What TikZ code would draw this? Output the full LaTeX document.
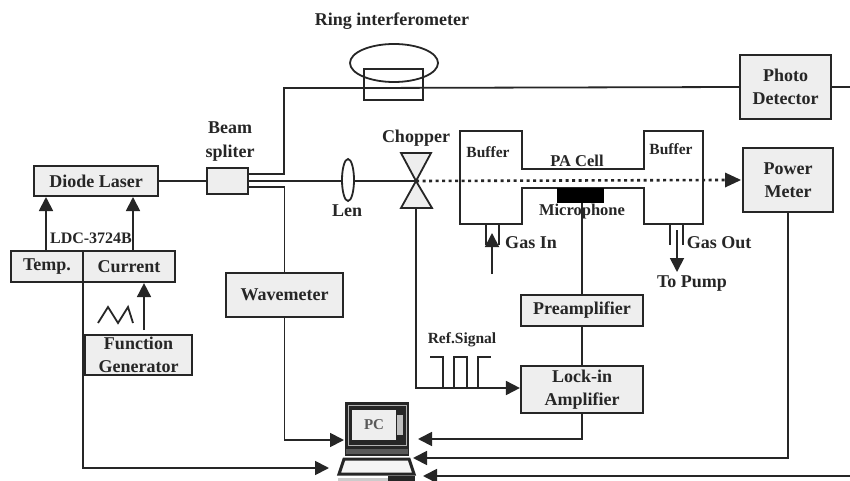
\documentclass[tikz,border=0pt]{standalone}
\usepackage{fontspec}
\setmainfont{Liberation Serif}
\usetikzlibrary{arrows.meta,calc,shapes.geometric}
\definecolor{ink}{HTML}{262626}
\definecolor{boxfill}{HTML}{EEEEEE}
\tikzset{
  wire/.style={draw=ink,line width=1.8pt},
  arr/.style={wire,-{Triangle[length=14pt,width=14pt]}},
  box/.style={draw=ink,line width=2.2pt,fill=boxfill,inner sep=0pt,align=center,font=\bfseries\fontsize{18}{23.5}\selectfont,text=ink},
  lab/.style={inner sep=0pt,align=center,font=\bfseries\fontsize{18}{24}\selectfont,text=ink},
  thinlab/.style={lab,font=\bfseries\fontsize{15.5}{18}\selectfont},
}
\begin{document}
\begin{tikzpicture}[x=1pt,y=-1pt]
\useasboundingbox (0,0) rectangle (850,481);
\fill[white] (0,0) rectangle (850,481);
% boxes
\node[box,minimum width=124pt,minimum height=30pt] (laser) at (96,181) {Diode Laser};
\node[box,minimum width=72pt,minimum height=31pt] (temp) at (47,266.5) {Temp.};
\node[box,minimum width=92pt,minimum height=31pt] (current) at (129,266.5) {Current};
\node[box,minimum width=107pt,minimum height=40pt] (fg) at (138.5,355) {Function\\Generator};
\node[box,minimum width=41pt,minimum height=26pt] (bs) at (227.5,181) {};
\node[box,minimum width=117pt,minimum height=44pt] (wm) at (284.5,295) {Wavemeter};
\node[box,minimum width=91pt,minimum height=64pt] (pd) at (785.5,87) {Photo\\Detector};
\node[box,minimum width=90pt,minimum height=64pt] (pm) at (788,180) {Power\\Meter};
\node[box,minimum width=122pt,minimum height=31pt] (pre) at (582,310.5) {Preamplifier};
\node[box,minimum width=122pt,minimum height=47pt] (lock) at (582,389.5) {Lock-in\\Amplifier};
% labels
\node[lab] (tring) at (392,21) {Ring interferometer};
\node[lab] (tbs) at (230,142) {Beam\\spliter};
\node[lab] (tch) at (416,138) {Chopper};
\node[lab] (tlen) at (347,211) {Len};
\node[thinlab,font=\bfseries\fontsize{16}{18}\selectfont] (tldc) at (91,238) {LDC-3724B};
\node[thinlab] (tb1) at (488,152) {Buffer};
\node[thinlab] (tb2) at (671,149) {Buffer};
\node[thinlab,font=\bfseries\fontsize{16.5}{18}\selectfont] (tpa) at (577,161) {PA Cell};
\node[thinlab,font=\bfseries\fontsize{16.5}{18}\selectfont] (tmic) at (582,212) {Microphone};
\node[lab] (tin) at (531,243) {Gas In};
\node[lab] (tout) at (719,243) {Gas Out};
\node[lab] (tpump) at (692,284) {To Pump};
\node[thinlab] (tref) at (462,340) {Ref.Signal};
% coordinates
\coordinate (ringL) at (364,88);
\coordinate (bsU) at ($(bs.east)+(0,-7)$);
\coordinate (bsD) at ($(bs.east)+(0,6)$);
\coordinate (riseTop) at (284,88);
\coordinate (cC) at (416,181);
\coordinate (cTL) at (401,153);
\coordinate (cTR) at (431,153);
\coordinate (cBL) at (401,208);
\coordinate (cBR) at (432,208);
\coordinate (cFoot) at (416,208);
\coordinate (pmIn) at (741,180);
\coordinate (lTemp) at (46,197);
\coordinate (lCurr) at (133,197);
\coordinate (fgUp) at (144,330);
\coordinate (pcA) at (344,440);
\coordinate (pcB) at (418,439);
\coordinate (pcC) at (329,468);
\coordinate (pcD) at (413,458);
\coordinate (pcE) at (423,476);
\coordinate (edge) at (850,87);
\coordinate (edgeB) at (850,476);
\coordinate (refCorner) at (416,388);
\coordinate (micBot) at (582,203);
% ring
\node[draw=ink,line width=1.8pt,minimum width=59pt,minimum height=31pt,inner sep=0pt] (ringbox) at (393.5,84.5) {};
\node[draw=ink,line width=1.8pt,ellipse,minimum width=88pt,minimum height=38pt,inner sep=0pt] (ring) at (394,63) {};
% beam paths
\draw[wire] (laser.east) -- (bs.west);
\draw[wire] (bsU) -| (riseTop) -- (ringL) -- (pd.west);
\draw[wire] (bsD) -| (wm.north);
\draw[wire] (bs.east) -- (cC);
\node[draw=ink,line width=1.8pt,fill=white,ellipse,minimum width=12pt,minimum height=42pt,inner sep=0pt] (lens) at (348,180) {};
\draw[wire,fill=boxfill] (cC) -- (cTL) -- (cTR) -- cycle;
\draw[wire,fill=boxfill] (cC) -- (cBL) -- (cBR) -- cycle;
% PA cell
\draw[wire,line join=miter,line width=2pt] (460,131) -- (522,131) -- (522,169) -- (644,169) -- (644,131) -- (703,131) -- (703,224) -- (644,224) -- (644,188) -- (522,188) -- (522,224) -- (460,224) -- cycle;
\fill[black] (557,188) rectangle (604,203);
\draw[wire,line width=2.6pt,dash pattern=on 3pt off 3.5pt] (cC) -- (725,180);
\fill[ink] (pmIn) -- (725,172.5) -- (725,187.5) -- cycle;
% gas tubes
\draw[wire] (486,224) -- (486,245) (499,224) -- (499,245);
\draw[wire] (670,224) -- (670,245) (683,224) -- (683,245);
\draw[arr] (492,274) -- (492,233);
\draw[arr] (677,230) -- (677,272);
% laser driver
\draw[arr] (temp.north -| lTemp) -- (lTemp);
\draw[arr] (current.north -| lCurr) -- (lCurr);
\draw[arr] (fgUp) -- (fgUp |- current.south);
\draw[wire] (98,323) -- (108,307) -- (118,323) -- (128,307) -- (133,323);
% to PC
\draw[arr] (wm.south) |- (pcA);
\draw[arr] (83,282) |- (pcC);
\draw[wire] (micBot) -- (pre.north);
\draw[wire] (pre.south) -- (lock.north);
\draw[arr] (lock.south) |- (pcB);
\draw[arr] (pm.south) |- (pcD);
\draw[wire] (pd.east) -- (edge);
\draw[arr] (edgeB) -- (pcE);
% chopper reference
\draw[arr] (cFoot) -- (refCorner) -- (lock.west |- refCorner);
\draw[wire,line width=1.5pt] (430,357) -- (443,357) -- (443,388) -- (454,388) -- (454,357) -- (467,357) -- (467,388) -- (478,388) -- (478,357) -- (491,357);
% PC
\fill[ink] (345,402) rectangle (409,456);
\draw[white!70!black,line width=.8pt] (348,405) rectangle (406,445);
\node[fill=boxfill,minimum width=44pt,minimum height=30pt,inner sep=0pt,text=black!65,font=\bfseries\fontsize{15}{17}\selectfont] (pc) at (374,425) {PC};
\fill[black!25] (397,415) rectangle (403,435);
\fill[black!65] (346,449) rectangle (408,454);
\draw[ink,line width=3pt,fill=boxfill!60] (344,459) -- (409,459) -- (414,474) -- (339,474) -- cycle;
\fill[black!20] (338,478) rectangle (388,481);
\fill[ink] (388,476) rectangle (415,481);
\end{tikzpicture}
\end{document}
